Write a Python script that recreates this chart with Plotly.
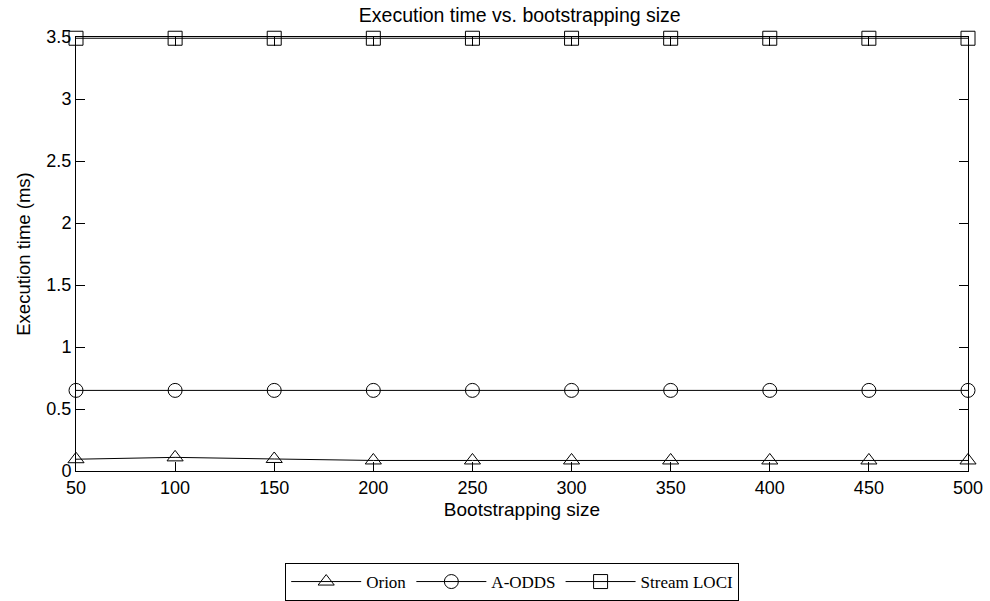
import plotly.graph_objects as go

sizes = [50, 100, 150, 200, 250, 300, 350, 400, 450, 500]
orion = [0.095, 0.11, 0.097, 0.085, 0.085, 0.085, 0.085, 0.085, 0.085, 0.085]
aodds = [0.65, 0.65, 0.65, 0.65, 0.65, 0.65, 0.65, 0.65, 0.65, 0.65]
stream_loci = [3.49, 3.49, 3.49, 3.49, 3.49, 3.49, 3.49, 3.49, 3.49, 3.49]
y_ticks = [0, 0.5, 1, 1.5, 2, 2.5, 3, 3.5]
y_tick_labels = ["0", "0.5", "1", "1.5", "2", "2.5", "3", "3.5"]

series = [
    ("Orion", orion, "triangle-up-open"),
    ("A-ODDS", aodds, "circle-open"),
    ("Stream LOCI", stream_loci, "square-open"),
]

fig = go.Figure()
for name, vals, sym in series:
    fig.add_trace(go.Scatter(
        x=sizes, y=vals, name=name, mode="lines+markers",
        line=dict(color="black", width=1),
        marker=dict(symbol=sym, size=14, color="black", line=dict(width=1, color="black")),
        cliponaxis=False,
    ))

sans = "Liberation Sans, Arial"
axis_common = dict(
    showline=True, linecolor="black", linewidth=1, mirror="allticks",
    ticks="inside", ticklen=9, tickcolor="black", tickwidth=1,
    showgrid=False, zeroline=False, automargin=False,
    tickfont=dict(family=sans, size=18, color="black"),
)

fig.update_layout(
    width=990, height=601,
    margin=dict(l=76, r=22, t=37, b=130, autoexpand=False),
    paper_bgcolor="white", plot_bgcolor="white",
    title=dict(text="Execution time vs. bootstrapping size", x=0.525, xanchor="center",
               y=0.975, yanchor="middle",
               font=dict(family=sans, size=19.5, color="black")),
    xaxis=dict(range=[50, 500], tickvals=sizes,
               title=dict(text="Bootstrapping size", standoff=6,
                          font=dict(family=sans, size=19, color="black")),
               **axis_common),
    yaxis=dict(range=[0, 3.5], tickvals=y_ticks, ticktext=y_tick_labels,
               title=dict(text="Execution time (ms)", standoff=10,
                          font=dict(family=sans, size=18.5, color="black")),
               **axis_common),
    legend=dict(orientation="h", x=0.489, xanchor="center", y=-0.212, yanchor="top",
                bordercolor="black", borderwidth=1, bgcolor="white",
                font=dict(family="Liberation Serif, Times New Roman", size=17, color="black"),
                itemwidth=70),
    showlegend=True,
)

fig.write_html("out.html", config={"displayModeBar": False},
               post_script="document.body.style.margin='0';document.body.style.overflow='hidden';")
